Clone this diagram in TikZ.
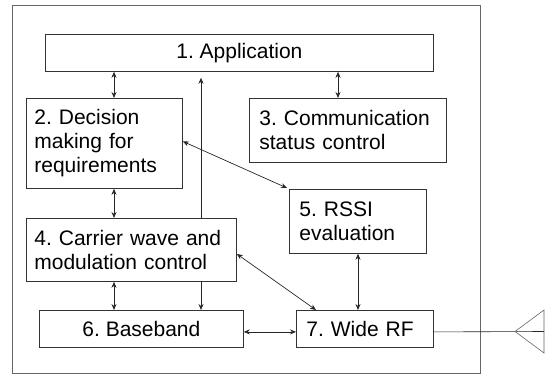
\documentclass[tikz,border=0pt]{standalone}
\usepackage{fontspec}
\setmainfont{Liberation Sans}
\usetikzlibrary{arrows.meta,calc}
\frenchspacing
\begin{document}
\begin{tikzpicture}[x=1pt,y=-1pt,
  box/.style={draw=black!80, line width=0.8pt, rectangle, inner ysep=0pt,
    font=\fontsize{21}{24}\selectfont\frenchspacing, anchor=north west},
  lbox/.style={box, align=left},
  biarrow/.style={{Stealth[length=6pt,width=5pt]}-{Stealth[length=6pt,width=5pt]}, line width=0.7pt, black!85},
  onearrow/.style={-{Stealth[length=6pt,width=5pt]}, line width=0.7pt, black!85},
  frame/.style={draw=black!60, line width=0.8pt}
]
\useasboundingbox (0,0) rectangle (545,375);
\draw[frame] (12,5) rectangle (480,373);

\node[box, minimum width=388, minimum height=37, inner xsep=0pt] (b1) at (45,34) {1. Application};
\node[lbox, minimum width=156, minimum height=90, inner xsep=8pt, text width=140] (b2) at (26,98) {2. Decision\\making for\\requirements};
\node[lbox, minimum width=197, minimum height=64, inner xsep=10pt, text width=177] (b3) at (249,98) {3. Communication\\status control};
\node[lbox, minimum width=137, minimum height=64, inner xsep=10pt, text width=117] (b5) at (289,189) {5. RSSI\\evaluation};
\node[lbox, minimum width=210, minimum height=63, inner xsep=8pt, text width=194] (b4) at (26,218) {4. Carrier wave and\\modulation control};
\node[box, minimum width=204, minimum height=37, inner xsep=0pt] (b6) at (39,310) {6. Baseband};
\node[lbox, minimum width=137, minimum height=37, inner xsep=10pt, text width=117] (b7) at (296,310) {7. Wide RF};

\coordinate (cA) at (114,0);
\coordinate (cB) at (201,0);
\coordinate (cC) at (338,0);
\coordinate (cD) at (358,0);

\draw[biarrow] (b1.south -| cA) -- (b2.north -| cA);
\draw[biarrow] (b1.south -| cC) -- (b3.north -| cC);
\draw[biarrow] (b2.south -| cA) -- (b4.north -| cA);
\draw[biarrow] (b4.south -| cA) -- (b6.north -| cA);
\draw[onearrow, shorten >=6pt] (b4.north -| cB) -- (b1.south -| cB);
\draw[onearrow] (b4.south -| cB) -- (b6.north -| cB);
\draw[biarrow] (b5.south -| cD) -- (b7.north -| cD);
\draw[biarrow] ($(b2.east)+(0,-2)$) -- ($(b5.north west)+(-2,-1)$);
\draw[biarrow] ($(b4.east)+(0,4)$) -- ($(b7.north west)+(20,0)$);
\draw[biarrow] ($(b6.east)+(0,3)$) -- ($(b7.west)+(0,3)$);

\coordinate (ant) at (515,331.5);
\draw[black!85, line width=0.6pt] ($(b7.east)+(0,3)$) -- (544,331.5);
\draw[black!60, line width=0.6pt] (544,310) -- (ant) -- (544,353) -- cycle;
\end{tikzpicture}
\end{document}
